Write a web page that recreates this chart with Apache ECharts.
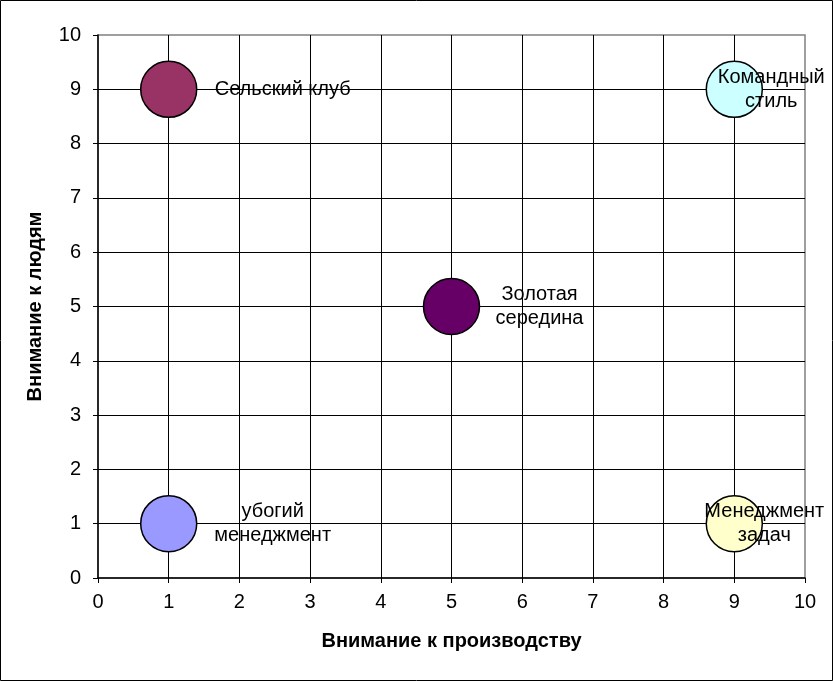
<!DOCTYPE html>
<html>
<head>
<meta charset="utf-8">
<script src="https://cdn.jsdelivr.net/npm/echarts@6/dist/echarts.min.js"></script>
<style>
  html, body { margin: 0; padding: 0; background: #fff; }
  #container { width: 833px; height: 681px; }
</style>
</head>
<body>
<div id="container"></div>
<script>
// стили управления (сетка Блейка-Моутон)
var styleNames = ['Сельский клуб', 'Командный\nстиль', 'Золотая\nсередина', 'убогий\nменеджмент', 'Менеджмент\nзадач'];
var production = [1, 9, 5, 1, 9];   // внимание к производству
var people = [9, 9, 5, 1, 1];       // внимание к людям
var bubbleColors = ['#993366', '#CCFFFF', '#660066', '#9999FF', '#FFFFCC'];
var axisTicks = [0, 1, 2, 3, 4, 5, 6, 7, 8, 9, 10];

// смещения подписей относительно центра пузыря
var labelShift = [[114, 0], [37, 0], [88, 0], [104, 0], [30, 0]];

var FONT = 'Arial, "Liberation Sans", sans-serif';

var dom = document.getElementById('container');
var myChart = echarts.init(dom);

var points = [];
for (var i = 0; i < styleNames.length; i++) {
    points.push({
        value: [production[i], people[i]],
        name: styleNames[i],
        itemStyle: { color: bubbleColors[i] },
        label: { offset: labelShift[i] }
    });
}

var option = {
    animation: false,
    backgroundColor: '#fff',
    graphic: [{
        type: 'rect',
        shape: { x: 0.5, y: 0.5, width: 832, height: 680 },
        style: { fill: 'none', stroke: '#000', lineWidth: 1 },
        z: 100
    }],
    grid: {
        left: 98, right: 28, top: 35, bottom: 103,
        show: true,
        borderColor: '#808080',
        borderWidth: 1.5
    },
    xAxis: {
        type: 'value',
        min: axisTicks[0], max: axisTicks[axisTicks.length - 1], interval: 1,
        name: 'Внимание к производству',
        nameLocation: 'middle',
        nameGap: 53,
        nameTextStyle: { fontFamily: FONT, fontSize: 20, fontWeight: 'bold', color: '#000' },
        axisLine: { lineStyle: { color: '#000', width: 1.5 } },
        axisTick: { show: true, length: 5, lineStyle: { color: '#000' } },
        axisLabel: { fontFamily: FONT, fontSize: 20, color: '#000', margin: 14 },
        splitLine: { show: true, showMinLine: false, showMaxLine: false, lineStyle: { color: '#000', width: 1 } }
    },
    yAxis: {
        type: 'value',
        min: axisTicks[0], max: axisTicks[axisTicks.length - 1], interval: 1,
        name: 'Внимание к людям',
        nameLocation: 'middle',
        nameGap: 53,
        nameTextStyle: { fontFamily: FONT, fontSize: 20, fontWeight: 'bold', color: '#000' },
        axisLine: { show: true, lineStyle: { color: '#000', width: 1.5 } },
        axisTick: { show: true, length: 5, lineStyle: { color: '#000' } },
        axisLabel: { fontFamily: FONT, fontSize: 20, color: '#000', margin: 17 },
        splitLine: { show: true, showMinLine: false, showMaxLine: false, lineStyle: { color: '#000', width: 1 } }
    },
    series: [{
        type: 'scatter',
        symbol: 'circle',
        symbolSize: 56,
        data: points,
        itemStyle: { borderColor: '#000', borderWidth: 1.5, opacity: 1 },
        label: {
            show: true,
            position: 'inside',
            formatter: '{b}',
            align: 'center',
            fontFamily: FONT,
            fontSize: 20,
            lineHeight: 24,
            color: '#000'
        }
    }]
};

myChart.setOption(option, true);
</script>
</body>
</html>
